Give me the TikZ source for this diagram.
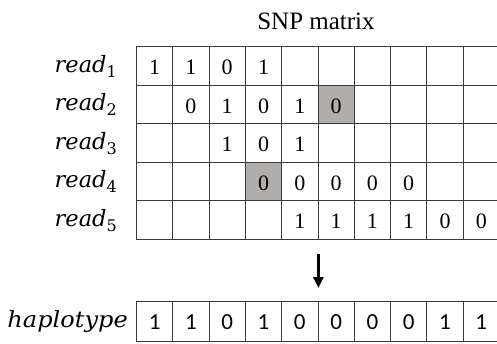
\documentclass[tikz,border=0pt]{standalone}
\usepackage{fontspec}
\setmainfont{Liberation Serif}
\newfontfamily\hapfont{Carlito}
\newfontfamily\labfont{DejaVu Serif}
\usetikzlibrary{arrows.meta}
\definecolor{gridc}{HTML}{3A3A3A}
\definecolor{shade}{HTML}{B0ADAB}
\newcommand{\labsub}[1]{\raisebox{-5pt}{\upshape\fontsize{16}{18}\selectfont #1}}
\begin{document}
\begin{tikzpicture}[x=1pt,y=-1pt,
  cell/.style={draw=gridc,line width=0.9pt,minimum width=36.3pt,minimum height=38.5pt,inner sep=0pt,anchor=north west},
  hcell/.style={cell,minimum height=40pt},
  digit/.style={inner sep=0pt,font=\fontsize{22}{26}\selectfont},
  hdigit/.style={inner sep=0pt,font=\hapfont\fontsize{23}{27}\selectfont},
  lab/.style={anchor=base east,inner sep=0pt,font=\labfont\itshape\fontsize{22.5}{27}\selectfont}]
\clip (0,0) rectangle (497,343);
\node[font=\fontsize{25}{30}\selectfont] (title) at (316,21) {SNP matrix};
% matrix grid
\foreach \r in {1,...,5}{\foreach \c in {1,...,10}{
  \def\f{none}
  \ifnum\r\c=26 \def\f{shade}\fi
  \ifnum\r\c=44 \def\f{shade}\fi
  \node[cell,fill=\f] (c\r-\c) at ({136+36.3*(\c-1)},{46+38.5*(\r-1)}) {};
}}
\foreach \r/\c/\v in {1/1/1,1/2/1,1/3/0,1/4/1,
  2/2/0,2/3/1,2/4/0,2/5/1,2/6/0,
  3/3/1,3/4/0,3/5/1,
  4/4/0,4/5/0,4/6/0,4/7/0,4/8/0,
  5/5/1,5/6/1,5/7/1,5/8/1,5/9/0,5/10/0}
  \node[digit] (d\r-\c) at ([yshift=-2pt]c\r-\c.center) {\v};
% row labels
\foreach \r in {1,...,5}
  \node[lab] (l\r) at (117,{46+38.5*(\r-1)+26}) {read\labsub{\r}};
% haplotype
\foreach \c/\v in {1/1,2/1,3/0,4/1,5/0,6/0,7/0,8/0,9/1,10/1}{
  \node[hcell] (h\c) at ({136+36.3*(\c-1)},301) {};
  \node[hdigit] (hd\c) at ([yshift=-1pt]h\c.center) {\v};
}
\node[lab] (hl) at (128,327) {\scalebox{1.07}[1]{haplotype}};
% arrow
\draw[line width=2.6pt,-{Triangle[length=11pt,width=10pt]}]
  ([yshift=-14.5pt]c5-5.south east) -- ([yshift=13pt]h5.north east);
\end{tikzpicture}
\end{document}
